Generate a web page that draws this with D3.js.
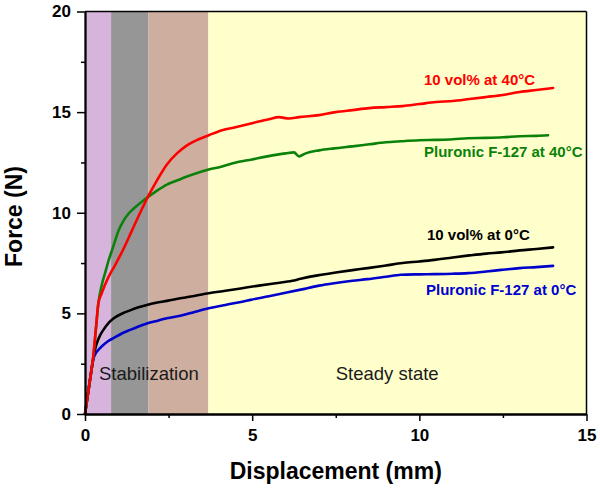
<!DOCTYPE html>
<html>
<head>
<meta charset="utf-8">
<script src="https://cdn.jsdelivr.net/npm/d3@7"></script>
<style>
  body { margin: 0; background: #fff; }
  svg { display: block; font-family: "Liberation Sans", Arial, sans-serif; }
</style>
</head>
<body>
<svg id="chart" width="600" height="488"></svg>
<script>
// ---- Data ----
const xTicks = [0, 5, 10, 15];
const yTicks = [0, 5, 10, 15, 20];
const xMinor = [2.5, 7.5, 12.5];
const yMinor = [2.5, 7.5, 12.5, 17.5];

const bandStarts = [0, 0.78, 1.9, 3.69];
const bandEnds   = [0.78, 1.9, 3.69, 15];
const bandColors = ["#D7B4DC", "#969696", "#CEAE9F", "#FFFFCC"];

const redX = [0,0.15,0.25,0.33,0.40,0.5,0.7,0.9,1.15,1.4,1.65,1.9,2.15,2.45,2.75,3.05,3.4,3.7,4.1,4.5,5.0,5.5,5.8,6.1,6.4,7.0,7.5,8.0,8.5,9.0,9.5,10.0,10.5,11.0,11.5,12.0,12.5,13.0,13.5,14.0];
const redY = [0,1.7,2.9,4.3,5.5,6.0,6.8,7.4,8.2,9.1,10.0,10.85,11.6,12.4,12.95,13.35,13.65,13.85,14.1,14.25,14.45,14.65,14.75,14.68,14.75,14.85,15.0,15.1,15.2,15.25,15.3,15.4,15.5,15.55,15.65,15.75,15.85,16.0,16.1,16.2];

const greenX = [0,0.15,0.25,0.33,0.40,0.5,0.6,0.7,0.8,0.9,1.0,1.15,1.3,1.45,1.7,1.9,2.2,2.45,2.75,3.05,3.4,3.7,4.1,4.45,5.0,5.45,6.0,6.25,6.4,6.6,7.0,7.45,8.0,8.5,9.0,9.45,10.0,10.5,11.0,11.45,12.0,12.5,13.0,13.5,13.85];
const greenY = [0,1.7,2.9,4.3,5.5,6.4,7.0,7.6,8.1,8.6,9.1,9.6,9.95,10.2,10.55,10.8,11.15,11.4,11.6,11.8,12.0,12.15,12.3,12.47,12.65,12.8,12.95,13.0,12.8,12.95,13.1,13.2,13.3,13.4,13.5,13.55,13.6,13.62,13.65,13.7,13.72,13.75,13.8,13.82,13.85];

const blackX = [0,0.15,0.25,0.3,0.35,0.45,0.55,0.7,0.85,1.1,1.35,1.6,1.85,2.2,2.45,2.85,3.3,3.7,4.2,4.7,5.2,5.7,6.2,6.45,7.0,7.5,8.0,8.45,9.0,9.5,10.0,10.45,11.0,11.5,12.0,12.45,13.0,13.5,14.0];
const blackY = [0,1.7,2.75,3.2,3.5,3.9,4.18,4.52,4.75,4.98,5.15,5.3,5.42,5.55,5.62,5.75,5.88,6.0,6.12,6.25,6.38,6.5,6.62,6.72,6.9,7.03,7.15,7.25,7.38,7.5,7.58,7.66,7.78,7.88,7.97,8.03,8.13,8.2,8.28];

const blueX = [0,0.15,0.25,0.3,0.45,0.6,0.75,0.85,1.1,1.35,1.6,1.85,2.2,2.45,2.85,3.3,3.7,4.2,4.7,4.95,5.5,6.0,6.45,7.0,7.45,8.0,8.45,9.0,9.45,10.0,10.45,11.0,11.45,12.0,12.45,13.0,13.5,14.0];
const blueY = [0,1.7,2.75,2.95,3.27,3.5,3.68,3.77,4.0,4.18,4.35,4.5,4.65,4.76,4.88,5.08,5.25,5.42,5.58,5.67,5.85,6.02,6.18,6.38,6.5,6.62,6.7,6.82,6.92,6.94,6.95,6.97,7.0,7.08,7.16,7.25,7.3,7.36];

const seriesNames = ["10 vol% at 40°C", "Pluronic F-127 at 40°C", "10 vol% at 0°C", "Pluronic F-127 at 0°C"];
const seriesColors = ["#FF0000", "#0A820A", "#000000", "#0000CC"];
const labelX = [10.14, 10.14, 10.23, 10.2];
const labelY = [16.35, 12.79, 8.67, 5.91];

const regionNames = ["Stabilization", "Steady state"];
const regionX = [0.42, 7.5];
const regionY = [1.7, 1.7];

// ---- Layout ----
const svg = d3.select("#chart");
const W = 600, H = 488;
const margin = {left: 85, right: 13.5, top: 11.5, bottom: 74};
const iw = W - margin.left - margin.right;
const ih = H - margin.top - margin.bottom;

const x = d3.scaleLinear().domain([0, 15]).range([0, iw]);
const y = d3.scaleLinear().domain([0, 20]).range([ih, 0]);

const g = svg.append("g").attr("transform", `translate(${margin.left},${margin.top})`);

// bands
g.selectAll("rect.band").data(bandStarts).join("rect")
  .attr("class", "band")
  .attr("x", (d) => x(d))
  .attr("y", 0)
  .attr("width", (d, i) => x(bandEnds[i]) - x(d))
  .attr("height", ih)
  .attr("fill", (d, i) => bandColors[i]);

// region texts
g.selectAll("text.region").data(regionNames).join("text")
  .attr("class", "region")
  .attr("x", (d, i) => x(regionX[i]))
  .attr("y", (d, i) => y(regionY[i]))
  .attr("font-size", 18.5)
  .attr("fill", "#1a1a1a")
  .text(d => d);

// lines
const seriesX = [redX, greenX, blackX, blueX];
const seriesY = [redY, greenY, blackY, blueY];
const line = d3.line().x(d => x(d[0])).y(d => y(d[1])).curve(d3.curveMonotoneX);
[2, 3, 1, 0].forEach(i => {
  const pts = seriesX[i].map((v, j) => [v, seriesY[i][j]]);
  g.append("path").datum(pts)
    .attr("d", line)
    .attr("fill", "none")
    .attr("stroke", seriesColors[i])
    .attr("stroke-width", 2.6)
    .attr("stroke-linejoin", "round")
    .attr("stroke-linecap", "round");
});

// series labels
g.selectAll("text.slabel").data(seriesNames).join("text")
  .attr("class", "slabel")
  .attr("x", (d, i) => x(labelX[i]))
  .attr("y", (d, i) => y(labelY[i]))
  .attr("text-anchor", "start")
  .attr("font-size", 15)
  .attr("font-weight", "bold")
  .attr("fill", (d, i) => seriesColors[i])
  .text(d => d);

// frame (top/right)
g.append("line").attr("x1", 0).attr("x2", iw).attr("y1", 0).attr("y2", 0).attr("stroke", "#000").attr("stroke-width", 1.5);
g.append("line").attr("x1", iw).attr("x2", iw).attr("y1", 0).attr("y2", ih).attr("stroke", "#000").attr("stroke-width", 1.5);

// axes
const xAxis = g.append("g").attr("transform", `translate(0,${ih})`)
  .call(d3.axisBottom(x).tickValues(xTicks).tickSize(7).tickPadding(8).tickSizeOuter(0).tickFormat(d3.format("d")));
const xMinorAxis = g.append("g").attr("transform", `translate(0,${ih})`)
  .call(d3.axisBottom(x).tickValues(xMinor).tickSize(4).tickSizeOuter(0).tickFormat(""));
const yAxis = g.append("g")
  .call(d3.axisLeft(y).tickValues(yTicks).tickSize(8).tickPadding(6).tickSizeOuter(0).tickFormat(d3.format("d")));
const yMinorAxis = g.append("g")
  .call(d3.axisLeft(y).tickValues(yMinor).tickSize(4).tickSizeOuter(0).tickFormat(""));

[xAxis, xMinorAxis, yAxis, yMinorAxis].forEach(a => {
  a.selectAll("path.domain").attr("stroke", "#000").attr("stroke-width", 1.8);
  a.selectAll(".tick line").attr("stroke", "#000").attr("stroke-width", 1.5);
  a.selectAll("text").attr("font-size", 17).attr("font-weight", "bold").attr("fill", "#000")
    .attr("font-family", "'Liberation Sans', Arial, sans-serif");
});

// axis titles
svg.append("text")
  .attr("x", margin.left + x(7.5))
  .attr("y", 479)
  .attr("text-anchor", "middle")
  .attr("font-size", 23)
  .attr("font-weight", "bold")
  .text("Displacement (mm)");

svg.append("text")
  .attr("transform", `translate(21.5,${216.5}) rotate(-90)`)
  .attr("text-anchor", "middle")
  .attr("font-size", 23)
  .attr("font-weight", "bold")
  .text("Force (N)");
</script>
</body>
</html>
